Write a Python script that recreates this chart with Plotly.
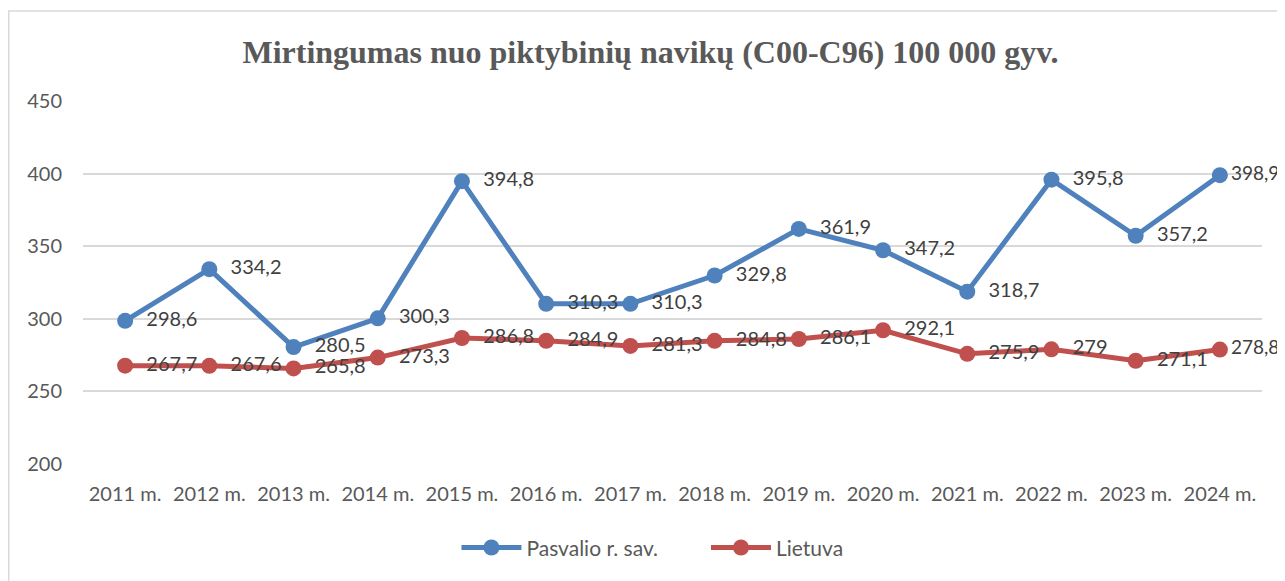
import plotly.graph_objects as go

# Data
years = ["2011 m.", "2012 m.", "2013 m.", "2014 m.", "2015 m.", "2016 m.", "2017 m.",
         "2018 m.", "2019 m.", "2020 m.", "2021 m.", "2022 m.", "2023 m.", "2024 m."]
pasvalys = [298.6, 334.2, 280.5, 300.3, 394.8, 310.3, 310.3,
            329.8, 361.9, 347.2, 318.7, 395.8, 357.2, 398.9]
lietuva = [267.7, 267.6, 265.8, 273.3, 286.8, 284.9, 281.3,
           284.8, 286.1, 292.1, 275.9, 279, 271.1, 278.8]


def labels(vals):
    # Lithuanian decimal comma; small gap from the marker, tighter at the right edge
    out = []
    for i, v in enumerate(vals):
        s = ("%g" % v).replace(".", ",")
        out.append(s if i == len(vals) - 1 else "\u00a0\u00a0" + s)
    return out


def label_sizes(vals):
    return [19 if i == len(vals) - 1 else 20 for i in range(len(vals))]


fig = go.Figure()

fig.add_trace(go.Scatter(
    x=years, y=pasvalys, name="Pasvalio r. sav." + "\u00a0" * 8,
    mode="lines+markers+text",
    line=dict(color="#4F81BD", width=5),
    marker=dict(color="#4F81BD", size=16),
    text=labels(pasvalys),
    textposition="middle right",
    textfont=dict(family="Lato", size=label_sizes(pasvalys), color="#404040"),
    cliponaxis=False,
))

fig.add_trace(go.Scatter(
    x=years, y=lietuva, name="Lietuva",
    mode="lines+markers+text",
    line=dict(color="#C0504D", width=5),
    marker=dict(color="#C0504D", size=16),
    text=labels(lietuva),
    textposition="middle right",
    textfont=dict(family="Lato", size=label_sizes(lietuva), color="#404040"),
    cliponaxis=False,
))

fig.update_layout(
    width=1285, height=581,
    margin=dict(l=75, r=31, t=93, b=125),
    paper_bgcolor="white", plot_bgcolor="white",
    title=dict(
        text="<b>Mirtingumas nuo piktybinių navikų (C00-C96) 100 000 gyv.</b>",
        x=0.5, xanchor="center", y=0.924, yanchor="middle",
        font=dict(family="Liberation Serif", size=32, color="#595959"),
    ),
    xaxis=dict(
        showgrid=False, showline=False, ticks="",
        tickfont=dict(family="Lato", size=20, color="#595959"),
        ticklabelstandoff=16,
        range=[-0.5, 13.5],
    ),
    yaxis=dict(
        range=[200, 450], dtick=50, showgrid=True,
        gridcolor="#d9d9d9", gridwidth=1.5, zeroline=False,
        tickfont=dict(family="Lato", size=20, color="#595959"),
        ticklabelstandoff=20,
    ),
    legend=dict(
        orientation="h", x=0.483, xanchor="center", y=-0.231, yanchor="middle",
        font=dict(family="Lato", size=21, color="#595959"),
        itemwidth=60,
    ),
    showlegend=True,
    shapes=[dict(
        type="rect", xref="paper", yref="paper",
        x0=-0.063, x1=1.1, y0=-0.5, y1=1.248,
        line=dict(color="#d9d9d9", width=1.5), fillcolor="rgba(0,0,0,0)",
        layer="below",
    )],
)

fig.write_html("out.html")
